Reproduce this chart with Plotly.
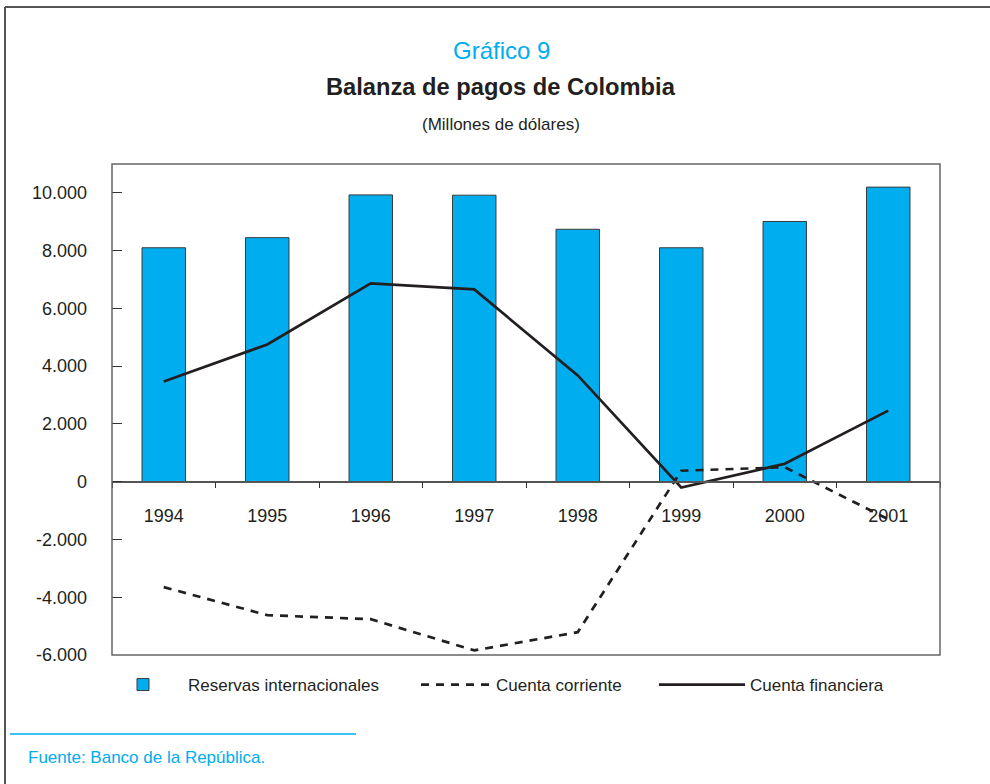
import plotly.graph_objects as go

years = ["1994", "1995", "1996", "1997", "1998", "1999", "2000", "2001"]
reservas = [8100, 8450, 9930, 9920, 8740, 8100, 9010, 10200]
cuenta_corriente = [-3650, -4620, -4760, -5840, -5210, 380, 500, -1300]
cuenta_financiera = [3470, 4750, 6870, 6660, 3680, -200, 620, 2460]

y_tick_vals = [-6000, -4000, -2000, 0, 2000, 4000, 6000, 8000, 10000]
y_tick_text = ["-6.000", "-4.000", "-2.000", "0", "2.000", "4.000", "6.000", "8.000", "10.000"]

CYAN = "#00ADEF"
DARK = "#231F20"
SANS = "Liberation Sans, Arial, sans-serif"

fig = go.Figure()
fig.add_trace(go.Bar(
    x=years, y=reservas, name="Reservas internacionales",
    marker=dict(color=CYAN, line=dict(color="#3a3a3a", width=1)),
    width=0.42, legend="legend",
))
fig.add_trace(go.Scatter(
    x=years, y=cuenta_corriente, name="Cuenta corriente", mode="lines",
    line=dict(color=DARK, width=2.7, dash="8px,7px"), legend="legend2",
))
fig.add_trace(go.Scatter(
    x=years, y=cuenta_financiera, name="Cuenta financiera", mode="lines",
    line=dict(color=DARK, width=2.7), legend="legend3",
))

ymin, ymax = -6000, 11000
zero_pos = (0 - ymin) / (ymax - ymin)

L, R, T, B = 112, 50, 164, 129
W, H = 990, 784
pw, ph = W - L - R, H - T - B

def px(x):
    return (x - L) / pw

def py(y):
    return (H - B - y) / ph

def legend_box(x, itemwidth):
    return dict(
        orientation="h", x=px(x), y=py(685), xanchor="left", yanchor="middle",
        font=dict(family=SANS, size=17, color=DARK),
        itemwidth=itemwidth, bgcolor="rgba(0,0,0,0)",
    )

fig.update_layout(
    width=W, height=H,
    margin=dict(l=L, r=R, t=T, b=B),
    paper_bgcolor="white", plot_bgcolor="white",
    showlegend=True,
    legend=legend_box(98, 80),
    legend2=legend_box(416, 70),
    legend3=legend_box(654, 86),
    xaxis=dict(
        type="category", range=[-0.5, 7.5],
        anchor="free", position=zero_pos,
        showline=True, linecolor="#555555", linewidth=1.5,
        ticks="outside", ticklen=6, tickcolor="#333333", tickson="boundaries",
        ticklabelstandoff=18,
        tickfont=dict(family=SANS, size=18, color=DARK),
        showgrid=False, zeroline=False,
    ),
    yaxis=dict(
        range=[ymin, ymax], tickvals=y_tick_vals, ticktext=y_tick_text,
        ticks="inside", ticklen=10, tickcolor="#333333",
        tickfont=dict(family=SANS, size=18, color=DARK),
        showline=False, showgrid=False, zeroline=False,
        ticklabelstandoff=24,
    ),
    shapes=[
        dict(type="rect", xref="paper", yref="paper", x0=0, x1=1, y0=0, y1=1,
             line=dict(color="#666666", width=1.5), layer="above"),
        dict(type="line", xref="paper", yref="paper", x0=px(5), x1=px(990), y0=py(7), y1=py(7),
             line=dict(color="#555555", width=2)),
        dict(type="line", xref="paper", yref="paper", x0=px(5), x1=px(5), y0=py(7), y1=py(784),
             line=dict(color="#555555", width=2)),
        dict(type="line", xref="paper", yref="paper", x0=px(10), x1=px(356), y0=py(734), y1=py(734),
             line=dict(color=CYAN, width=1.5)),
    ],
    annotations=[
        dict(text="Gráfico 9", xref="paper", yref="paper", x=px(501), y=py(50),
             showarrow=False, xanchor="center", yanchor="middle",
             font=dict(family=SANS, size=24, color=CYAN)),
        dict(text="<b>Balanza de pagos de Colombia</b>", xref="paper", yref="paper", x=px(501), y=py(87),
             showarrow=False, xanchor="center", yanchor="middle",
             font=dict(family=SANS, size=23.7, color=DARK)),
        dict(text="(Millones de dólares)", xref="paper", yref="paper", x=px(501), y=py(124),
             showarrow=False, xanchor="center", yanchor="middle",
             font=dict(family=SANS, size=17, color=DARK)),
        dict(text="Fuente: Banco de la República.", xref="paper", yref="paper", x=px(26), y=py(757),
             showarrow=False, xanchor="left", yanchor="middle",
             font=dict(family=SANS, size=17, color=CYAN)),
    ],
)

fig.write_html(
    "out.html",
    config={"displayModeBar": False},
    post_script="document.body.style.margin='0px';document.body.style.overflow='hidden';",
)
